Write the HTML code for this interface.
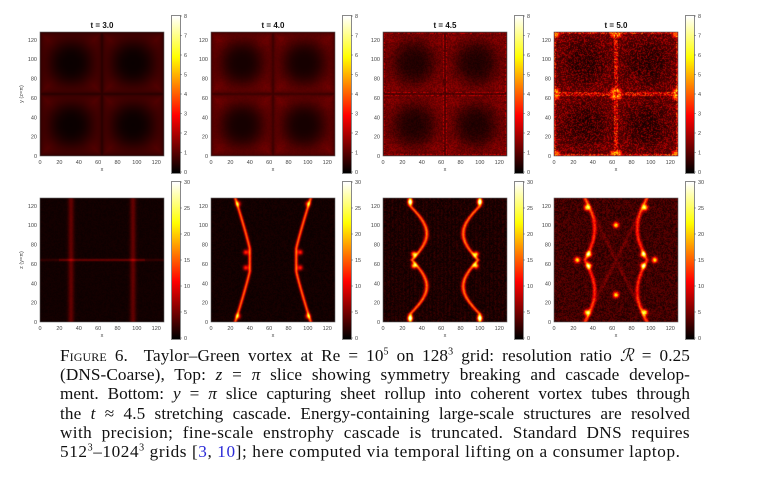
<!DOCTYPE html>
<html><head><meta charset="utf-8">
<style>
body{margin:0;background:#fff;width:758px;height:483px;overflow:hidden;position:relative;font-family:"Liberation Sans",sans-serif}
canvas{position:absolute;display:block}
.cap{position:absolute;left:60px;top:346px;width:630px;font-family:"Liberation Serif",serif;font-size:17.2px;line-height:19.2px;color:#111;letter-spacing:0.4px}
.ln{display:block;text-align:justify;text-align-last:justify;white-space:nowrap}
.ln.last{text-align-last:left}
.cap a{color:#2a2ad8;text-decoration:none}
.sc{font-variant:small-caps}
sup{font-size:10px;line-height:0}
</style></head><body>
<div id="fig"></div>
<div class="cap">
<span class="ln" style="letter-spacing:0.1px"><span class="sc">Figure 6.</span>&nbsp; Taylor–Green vortex at Re = 10<sup>5</sup> on 128<sup>3</sup> grid: resolution ratio <i>ℛ</i> = 0.25</span>
<span class="ln" style="letter-spacing:0.1px">(DNS-Coarse), Top: <i>z</i> = <i>π</i> slice showing symmetry breaking and cascade develop-</span>
<span class="ln" style="letter-spacing:0px">ment. Bottom: <i>y</i> = <i>π</i> slice capturing sheet rollup into coherent vortex tubes through</span>
<span class="ln" style="letter-spacing:0.1px">the <i>t</i> ≈ 4.5 stretching cascade. Energy-containing large-scale structures are resolved</span>
<span class="ln">with precision; fine-scale enstrophy cascade is truncated. Standard DNS requires</span>
<span class="ln last" style="letter-spacing:0.6px">512<sup>3</sup>–1024<sup>3</sup> grids [<a>3</a>, <a>10</a>]; here computed via temporal lifting on a consumer laptop.</span>
</div>
<script>
const times=["3.0","4.0","4.5","5.0"];
const topTicks=[0,1,2,3,4,5,6,7,8];
const botTicks=[0,5,10,15,20,25,30];
const axisTicks=[0,20,40,60,80,100,120];
const topMax=8, botMax=30;
const colX=[40,211,383,554];
const rowY=[32,198];
const S=124;
function hash(i,j){const s=Math.sin(i*12.9898+j*78.233)*43758.5453;return s-Math.floor(s);}
function hot(v){const r=Math.min(1,Math.max(0,v/0.365)),g=Math.min(1,Math.max(0,(v-0.365)/0.375)),b=Math.min(1,Math.max(0,(v-0.74)/0.26));return [r*255,g*255,b*255];}
function topVal(k,x,y){
  const X=x/128*2*Math.PI,Y=y/128*2*Math.PI;
  const a=Math.abs(Math.sin(X)),b=Math.abs(Math.sin(Y));
  const m=Math.min(a,b);
  let base=Math.pow(1-a*b,1.5)*Math.pow(m,0.35);
  const n=hash(Math.floor(x),Math.floor(y));
  if(k===0)return 1.4*base+0.12;
  if(k===1)return 1.6*base+0.25+0.3*n*base;
  if(k===2){let v=1.5*base+0.25+0.9*n*(0.3+base);if(m<0.1&&m>0.03)v+=1.2*n;if(m<0.02)v=0.2;return v;}
  let v=0.2+1.6*n*n+1.1*base;
  if(m<0.1&&m>0.02)v+=1.6*n+0.5;
  const cx=[3,61,67,125],cy=[3,61,67,125];
  for(const px of cx)for(const py of cy){const d=Math.hypot(x-px,y-py);if(d<4)v+=3.5*(1-d/4);}
  if(m<0.02)v=0.2;
  return v;
}
function curveX(k,s){
  if(k===1)return 40-15*Math.pow(Math.max(0,(s-0.18)/0.82),1.1);
  if(k===2)return 30+16*Math.sin(Math.PI*Math.min(1,s*1.15))-2*s;
  return 32+10*Math.sin(Math.PI*s);
}
function botVal(k,x,y){
  const n=hash(Math.floor(x)+7,Math.floor(y)+3);
  const s=Math.abs(y-64)/64;
  if(k===0){let v=0.5+0.5*n;
    v+=3.5*Math.exp(-Math.pow((x-32)/3,2))+3.5*Math.exp(-Math.pow((x-96)/3,2));
    v+=4*Math.exp(-Math.pow((y-64)/1.2,2))*(x>20&&x<108?1:0.4);return v;}
  const cx=curveX(k,s);
  const dl=Math.abs(x-cx),dr=Math.abs(x-(128-cx));
  let v=(k===3?1+3.5*n:0.4+0.8*n+(k===2?1.5*n*Math.abs(Math.sin(x*0.8)):0));
  const w=k===1?1.6:2.0;
  v+=(k===3?10:15)*Math.exp(-Math.pow(Math.min(dl,dr)/w,2));
  let blobs=[];
  if(k===1)blobs=[[36,72],[36,56],[92,72],[92,56],[28,122],[100,122],[28,6],[100,6]];
  if(k===2)blobs=[[32,70],[32,58],[96,70],[96,58],[28,124],[100,124],[28,4],[100,4]];
  if(k===3)blobs=[[34,118],[94,118],[34,10],[94,10],[36,70],[92,70],[36,58],[92,58],[64,100],[64,28],[24,64],[104,64]];
  for(const [bx,by] of blobs){const d=Math.hypot(x-bx,y-by);v+=(k===1?12:20)*Math.exp(-d*d/(k===3?8:7));}
  if(k===3){const d1=Math.abs((x-64)-(y-64)*0.5),d2=Math.abs((x-64)+(y-64)*0.5);const mm=Math.min(d1,d2);v+=2*Math.exp(-(mm*mm)/4);}
  return v;
}
const fig=document.getElementById('fig');
const NS='http://www.w3.org/2000/svg';
function txt(svg,x,y,t,opt){const e=document.createElementNS(NS,'text');e.setAttribute('x',x);e.setAttribute('y',y);e.setAttribute('font-size',opt.fs||5.5);e.setAttribute('fill',opt.fill||'#444');e.setAttribute('text-anchor',opt.a||'middle');e.setAttribute('font-family','Liberation Sans, sans-serif');if(opt.w)e.setAttribute('font-weight','bold');if(opt.rot)e.setAttribute('transform',opt.rot);e.textContent=t;svg.appendChild(e);return e;}
const svg=document.createElementNS(NS,'svg');svg.setAttribute('width',758);svg.setAttribute('height',483);svg.style.position='absolute';svg.style.left='0';svg.style.top='0';
for(let r=0;r<2;r++)for(let k=0;k<4;k++){
  const c=document.createElement('canvas');c.width=S;c.height=S;c.style.left=colX[k]+'px';c.style.top=rowY[r]+'px';
  
  
  const ctx=c.getContext('2d'),im=ctx.createImageData(S,S);
  const mx=r?botMax:topMax;
  for(let j=0;j<S;j++)for(let i=0;i<S;i++){
    const x=(i+0.5)/S*128,y=128-(j+0.5)/S*128;
    const v=r?botVal(k,x,y):topVal(k,x,y);
    const col=hot(Math.min(1,v/mx));const p=(j*S+i)*4;
    im.data[p]=col[0];im.data[p+1]=col[1];im.data[p+2]=col[2];im.data[p+3]=255;}
  ctx.putImageData(im,0,0);fig.appendChild(c);
  const cb=document.createElement('canvas');cb.width=8;cb.height=157;
  const cbx=colX[k]+132,cby=rowY[r]-16;cb.style.left=cbx+'px';cb.style.top=cby+'px';cb.style.outline='0.5px solid #888';
  
  
  const cc=cb.getContext('2d');for(let j=0;j<157;j++){const col=hot(1-j/156);cc.fillStyle='rgb('+(col[0]|0)+','+(col[1]|0)+','+(col[2]|0)+')';cc.fillRect(0,j,8,1);}
  fig.appendChild(cb);
  const tks=r?botTicks:topTicks;
  for(const t of tks){const yy=cby+156-t/mx*156;
    const l=document.createElementNS(NS,'line');l.setAttribute('x1',cbx+8);l.setAttribute('x2',cbx+10);l.setAttribute('y1',yy);l.setAttribute('y2',yy);l.setAttribute('stroke','#555');l.setAttribute('stroke-width',0.5);svg.appendChild(l);
    txt(svg,cbx+12,yy+2,t,{a:'start'});}
  const rect=document.createElementNS(NS,'rect');rect.setAttribute('x',colX[k]);rect.setAttribute('y',rowY[r]);rect.setAttribute('width',S);rect.setAttribute('height',S);rect.setAttribute('fill','none');rect.setAttribute('stroke','#666');rect.setAttribute('stroke-width',0.6);svg.appendChild(rect);
  for(const t of axisTicks){const px=colX[k]+t/128*S,py=rowY[r]+S-t/128*S;
    txt(svg,px,rowY[r]+S+8,t,{});
    txt(svg,colX[k]-3,py+2,t,{a:'end'});}
  txt(svg,colX[k]+S/2,rowY[r]+S+15,'x',{});
  if(k===0)txt(svg,colX[k]-17,rowY[r]+S/2,r?'z (y=π)':'y (z=π)',{rot:'rotate(-90 '+(colX[k]-17)+' '+(rowY[r]+S/2)+')'});
  if(r===0){const tt=txt(svg,colX[k]+S/2,rowY[r]-4,'t = '+times[k],{fs:8,w:1,fill:'#111'});
    
    }
}


fig.appendChild(svg);
</script>
</body></html>
